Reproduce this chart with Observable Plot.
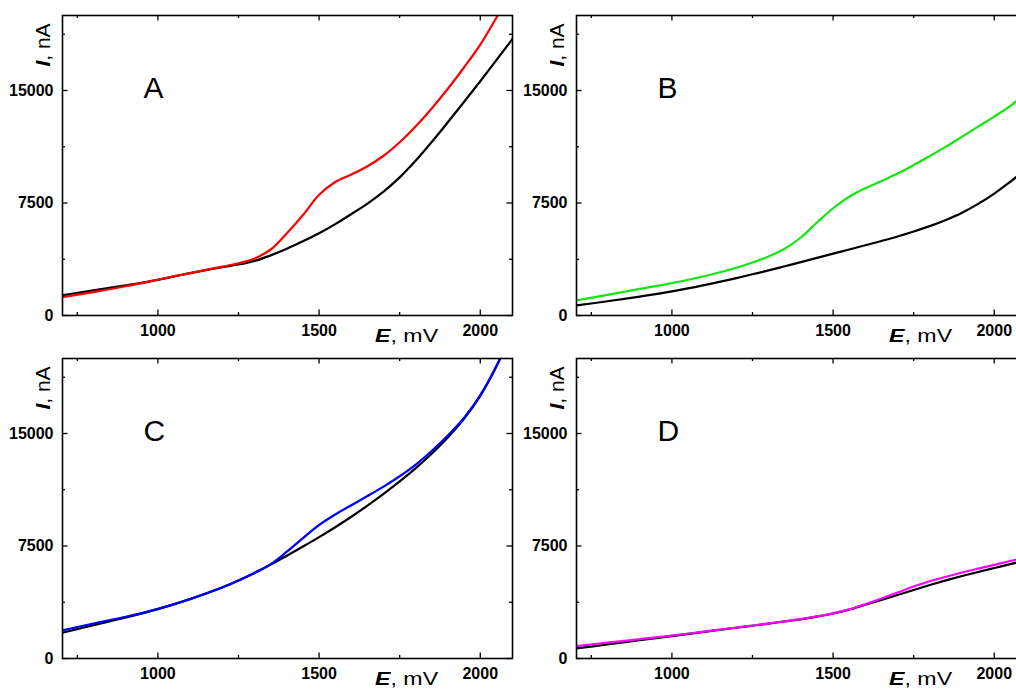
<!DOCTYPE html>
<html><head><meta charset="utf-8">
<script src="https://cdn.jsdelivr.net/npm/d3@7"></script>
<script src="https://cdn.jsdelivr.net/npm/@observablehq/plot@0.6"></script>
<style>
html,body{margin:0;padding:0;background:#fff;}
#fig{position:relative;width:1016px;height:689px;overflow:hidden;font-family:"Liberation Sans",Arial,sans-serif;}
.panel{position:absolute;width:520px;height:345px;}
.panel svg{overflow:visible;max-width:none !important;width:520px;height:345px;}
</style></head><body><div id="fig"></div>
<script>
// Potential grid, mV
const potential = [704, 800, 900, 1000, 1100, 1200, 1250, 1300, 1350, 1400, 1450, 1500, 1550, 1600, 1650, 1700, 1750, 1800, 1850, 1900, 1950, 2000, 2050, 2100];

// Currents, nA
const blackA = [1340, 1680, 2010, 2380, 2830, 3230, 3400, 3640, 4010, 4450, 4950, 5480, 6090, 6760, 7460, 8260, 9210, 10330, 11580, 12900, 14250, 15620, 17020, 18440];
const redA   = [1220, 1560, 1950, 2384, 2830, 3260, 3480, 3800, 4400, 5480, 6700, 8050, 8900, 9400, 9950, 10650, 11550, 12620, 13820, 15130, 16550, 18060, 19850, 21700];

const blackB = [669, 950, 1260, 1605, 2025, 2495, 2750, 3005, 3280, 3555, 3840, 4125, 4400, 4685, 4970, 5265, 5600, 5960, 6370, 6850, 7440, 8130, 8920, 9800];
const greenB = [1003, 1380, 1770, 2162, 2620, 3180, 3530, 3940, 4450, 5200, 6200, 7150, 7920, 8480, 8960, 9460, 10030, 10632, 11256, 11925, 12594, 13263, 13976, 14850];

const blackC = [1719, 2220, 2730, 3290, 3960, 4732, 5192, 5702, 6262, 6852, 7462, 8092, 8752, 9452, 10192, 10972, 11802, 12692, 13662, 14742, 15992, 17512, 19462, 21862];
const blueC  = [1875, 2330, 2780, 3310, 3970, 4745, 5200, 5710, 6290, 7120, 8030, 8900, 9600, 10220, 10830, 11460, 12150, 12930, 13850, 14880, 16050, 17560, 19500, 21900];

const blackD = [670, 937, 1220, 1495, 1775, 2050, 2185, 2325, 2470, 2610, 2790, 3000, 3260, 3580, 3900, 4230, 4570, 4900, 5210, 5500, 5770, 6030, 6290, 6560];
const magentaD = [826, 1060, 1290, 1530, 1795, 2065, 2200, 2340, 2485, 2635, 2805, 3010, 3275, 3620, 4000, 4400, 4800, 5150, 5450, 5730, 5990, 6240, 6500, 6770];

const panelLetters = ["A", "B", "C", "D"];
const sampleColors = ["#ff0000", "#10e810", "#0000ff", "#ff00ff"];

const xTicksMajor = [1000, 1500, 2000];
const xTicksMinor = [750, 1250, 1750];
const yTicksMajor = [0, 7500, 15000];
const yTicksMinor = [3750, 11250, 18750];
const xDomain = [704, 2100];
const yDomain = [0, 20000];

const panels = [
  {ref: blackA, sample: redA, left: 0, top: 0},
  {ref: blackB, sample: greenB, left: 514, top: 0},
  {ref: blackC, sample: blueC, left: 0, top: 343},
  {ref: blackD, sample: magentaD, left: 514, top: 343}
];

const W = 520, H = 345, mL = 62, mR = 8, mT = 15, mB = 30;
const fw = W - mL - mR, fh = H - mT - mB;
const fig = document.getElementById("fig");
const font = '"Liberation Sans", Arial, sans-serif';

panels.forEach((p, k) => {
  const refRows = potential.map((e, i) => ({E: e, I: p.ref[i]}));
  const smpRows = potential.map((e, i) => ({E: e, I: p.sample[i]}));
  const tickStyle = {stroke: "black", strokeWidth: 1.3};
  const svg = Plot.plot({
    width: W, height: H,
    marginLeft: mL, marginRight: mR, marginTop: mT, marginBottom: mB,
    style: {fontFamily: font, background: "transparent", overflow: "visible", maxWidth: "none"},
    x: {domain: xDomain, label: null},
    y: {domain: yDomain, label: null},
    marks: [
      Plot.line(refRows, {x: "E", y: "I", stroke: "black", strokeWidth: 2.2, curve: "catmull-rom", clip: true}),
      Plot.line(smpRows, {x: "E", y: "I", stroke: sampleColors[k], strokeWidth: 2.2, curve: "catmull-rom", clip: true}),
      // bottom ticks
      Plot.tickX(xTicksMajor, {x: d => d, insetTop: fh - 5.5, ...tickStyle}),
      Plot.tickX(xTicksMinor, {x: d => d, insetTop: fh - 3, ...tickStyle}),
      // top ticks
      Plot.tickX(xTicksMajor, {x: d => d, insetBottom: fh - 5.5, ...tickStyle}),
      Plot.tickX(xTicksMinor, {x: d => d, insetBottom: fh - 3, ...tickStyle}),
      // left ticks
      Plot.tickY(yTicksMajor, {y: d => d, insetRight: fw - 5.5, ...tickStyle}),
      Plot.tickY(yTicksMinor, {y: d => d, insetRight: fw - 3, ...tickStyle}),
      // right ticks
      Plot.tickY(yTicksMajor, {y: d => d, insetLeft: fw - 5.5, ...tickStyle}),
      Plot.tickY(yTicksMinor, {y: d => d, insetLeft: fw - 3, ...tickStyle}),
      Plot.frame({stroke: "black", strokeWidth: 1.6}),
      Plot.axisX(xTicksMajor, {tickSize: 0, tickPadding: 9, tickFormat: d => String(d), fontSize: 16, fontWeight: "bold", label: null}),
      Plot.axisY(yTicksMajor, {tickSize: 0, tickPadding: 9, tickFormat: d => String(d), fontSize: 16, fontWeight: "bold", label: null}),
      Plot.text([panelLetters[k]], {text: d => d, frameAnchor: "top-left", dx: 81, dy: 82, textAnchor: "start", lineAnchor: "bottom", fontSize: 30, fill: "black"})
    ]
  });
  const s = d3.select(svg);
  // x axis title
  const xt = s.append("text")
    .attr("transform", `translate(${mL + 313},${mT + fh + 27}) scale(1.22,1)`)
    .attr("text-anchor", "start")
    .attr("font-size", 19).attr("font-family", font).attr("fill", "black");
  xt.append("tspan").attr("font-weight", "bold").attr("font-style", "italic").text("E");
  xt.append("tspan").text(", mV");
  // y axis title
  const yt = s.append("text")
    .attr("transform", `translate(${mL - 12},${mT + 30}) rotate(-90)`)
    .attr("text-anchor", "middle")
    .attr("font-size", 21).attr("font-family", font).attr("fill", "black");
  yt.append("tspan").attr("font-weight", "bold").attr("font-style", "italic").text("I");
  yt.append("tspan").text(", nA");

  const div = document.createElement("div");
  div.className = "panel";
  div.style.left = p.left + "px";
  div.style.top = p.top + "px";
  div.appendChild(svg);
  fig.appendChild(div);
});
</script>
</body></html>
